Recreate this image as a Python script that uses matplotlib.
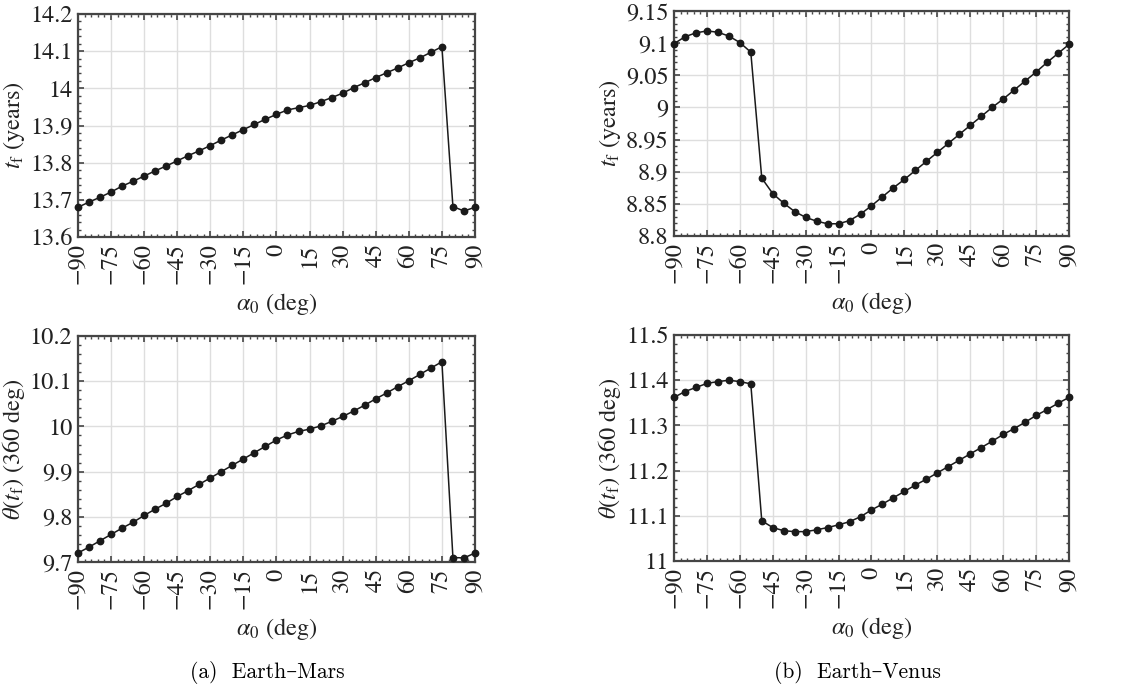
import numpy as np
import matplotlib
matplotlib.use('Agg')
import matplotlib.pyplot as plt
from matplotlib.ticker import MultipleLocator, AutoMinorLocator, FuncFormatter

plt.rcParams['font.family'] = ['STIXGeneral', 'DejaVu Serif']
plt.rcParams['mathtext.fontset'] = 'stix'
plt.rcParams['axes.unicode_minus'] = True

alpha0 = np.arange(-90, 91, 5)

mars_tf = [13.680, 13.694, 13.707, 13.721, 13.737, 13.750, 13.764, 13.778, 13.791,
           13.805, 13.819, 13.832, 13.846, 13.861, 13.875, 13.889, 13.903, 13.917,
           13.930, 13.942, 13.948, 13.954, 13.964, 13.975, 13.987, 14.002, 14.015,
           14.029, 14.042, 14.055, 14.069, 14.082, 14.097, 14.112, 13.682, 13.670,
           13.680]
mars_theta = [9.720, 9.733, 9.747, 9.761, 9.775, 9.788, 9.803, 9.817, 9.830,
              9.845, 9.858, 9.872, 9.886, 9.900, 9.914, 9.928, 9.942, 9.956,
              9.970, 9.981, 9.989, 9.994, 10.001, 10.011, 10.022, 10.034, 10.047,
              10.061, 10.074, 10.088, 10.101, 10.115, 10.129, 10.143, 9.710, 9.709,
              9.720]
venus_tf = [9.099, 9.110, 9.116, 9.119, 9.117, 9.111, 9.101, 9.086, 8.890,
            8.866, 8.851, 8.838, 8.829, 8.823, 8.819, 8.819, 8.824, 8.834,
            8.847, 8.861, 8.875, 8.888, 8.902, 8.916, 8.930, 8.944, 8.958,
            8.972, 8.986, 9.000, 9.013, 9.027, 9.041, 9.055, 9.070, 9.084,
            9.098]
venus_theta = [11.362, 11.375, 11.384, 11.393, 11.397, 11.400, 11.397, 11.392, 11.089,
               11.074, 11.067, 11.065, 11.065, 11.069, 11.074, 11.080, 11.087, 11.098,
               11.113, 11.126, 11.140, 11.154, 11.168, 11.181, 11.195, 11.209, 11.223,
               11.237, 11.251, 11.265, 11.280, 11.293, 11.307, 11.322, 11.335, 11.349,
               11.362]

xticks = np.arange(-90, 91, 15)
frame_col = '#454545'
fs = 17.5


def style_axis(ax, y, ylim, ystep, ylabel):
    ax.plot(alpha0, y, '-o', color='#1a1a1a', lw=1.1, ms=4.6, clip_on=False, zorder=3)
    ax.set_xlim(-90, 90)
    ax.set_ylim(*ylim)
    ax.set_xticks(xticks)
    ax.set_xticklabels([f'{v:d}'.replace('-', '\u2212') for v in xticks], rotation=90)
    ax.yaxis.set_major_locator(MultipleLocator(ystep))
    ax.yaxis.set_major_formatter(FuncFormatter(lambda v, p: f'{round(v, 3):g}'))
    ax.xaxis.set_minor_locator(AutoMinorLocator(5))
    ax.yaxis.set_minor_locator(AutoMinorLocator(5))
    ax.grid(True, which='major', color='#dedede', lw=1.0, zorder=0)
    ax.set_axisbelow(True)
    for s in ax.spines.values():
        s.set_color(frame_col)
        s.set_linewidth(1.6)
    ax.tick_params(which='both', direction='in', top=True, right=True,
                   color=frame_col, labelsize=fs, labelcolor='#222222')
    ax.tick_params(which='major', length=4, width=1.2)
    ax.tick_params(axis='x', which='major', pad=4.5)
    ax.tick_params(axis='y', which='major', pad=4)
    ax.tick_params(which='minor', length=2.2, width=1.0)
    ax.set_xlabel(r'$\alpha_0$ (deg)', fontsize=fs, color='#222222', labelpad=5)
    ax.set_ylabel(ylabel, fontsize=fs, color='#222222', labelpad=2)


fig = plt.figure(figsize=(11.25, 6.88), dpi=100)
ax1 = fig.add_axes([0.0693, 0.6555, 0.3529, 0.3241])
ax2 = fig.add_axes([0.5991, 0.657, 0.3511, 0.327])
ax3 = fig.add_axes([0.0693, 0.1831, 0.3529, 0.3285])
ax4 = fig.add_axes([0.5991, 0.1846, 0.3511, 0.3284])

style_axis(ax1, mars_tf, (13.6, 14.2), 0.1, r'$t_\mathrm{f}$ (years)')
style_axis(ax2, venus_tf, (8.8, 9.15), 0.05, r'$t_\mathrm{f}$ (years)')
style_axis(ax3, mars_theta, (9.7, 10.2), 0.1, r'$\theta(t_\mathrm{f})$ (360 deg)')
style_axis(ax4, venus_theta, (11.0, 11.5), 0.1, r'$\theta(t_\mathrm{f})$ (360 deg)')

fig.text(0.238, 0.014, '(a)  Earth\u2013Mars', ha='center', va='baseline',
         fontsize=15.5, family=['cmr10', 'DejaVu Serif'])
fig.text(0.762, 0.014, '(b)  Earth\u2013Venus', ha='center', va='baseline',
         fontsize=15.5, family=['cmr10', 'DejaVu Serif'])

fig.savefig('out.png', dpi=100)
